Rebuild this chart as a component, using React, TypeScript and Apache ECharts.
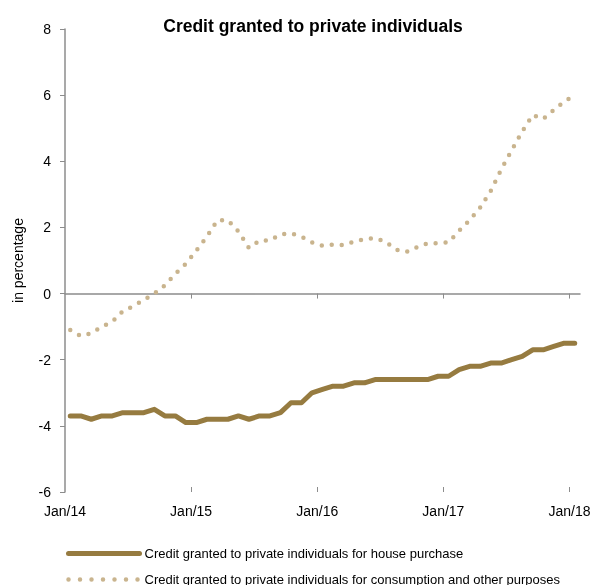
import React, { useEffect, useRef } from "react";
import * as echarts from "echarts";

const titleText = "Credit granted to private individuals";
const yAxisName = "in percentage";
const seriesNames = [
  "Credit granted to private individuals for house purchase",
  "Credit granted to private individuals for consumption and other purposes",
];
// monthly values, Jan/14 .. Jan/18
const housePurchase = [
  -3.7, -3.7, -3.8, -3.7, -3.7, -3.6, -3.6, -3.6, -3.5, -3.7, -3.7, -3.9,
  -3.9, -3.8, -3.8, -3.8, -3.7, -3.8, -3.7, -3.7, -3.6, -3.3, -3.3, -3.0,
  -2.9, -2.8, -2.8, -2.7, -2.7, -2.6, -2.6, -2.6, -2.6, -2.6, -2.6, -2.5,
  -2.5, -2.3, -2.2, -2.2, -2.1, -2.1, -2.0, -1.9, -1.7, -1.7, -1.6, -1.5,
  -1.5,
];
const consumption = [
  -1.1, -1.28, -1.2, -1.0, -0.85, -0.53, -0.38, -0.19, 0.0, 0.25, 0.6, 0.9,
  1.3, 1.72, 2.22, 2.22, 1.88, 1.38, 1.6, 1.61, 1.79, 1.82, 1.72, 1.55,
  1.45, 1.48, 1.47, 1.57, 1.65, 1.68, 1.57, 1.33, 1.26, 1.4, 1.52, 1.52,
  1.55, 1.9, 2.22, 2.6, 3.1, 3.75, 4.33, 4.9, 5.4, 5.28, 5.55, 5.8,
  6.0,
];
const tickMonths = [0, 12, 24, 36, 48];
const tickLabels = ["Jan/14", "Jan/15", "Jan/16", "Jan/17", "Jan/18"];

const FONT = "'Liberation Sans', Arial, sans-serif";
const SOLID = "#967B40";
const DOT = "#C9B48E";
const AXIS = "#8C8C8C";

export default function App() {
  const ref = useRef<HTMLDivElement>(null);
  useEffect(() => {
    if (!ref.current) return;
    const chart = echarts.init(ref.current, null, { renderer: "svg" });
    // data points sit at mid-month
    const toPairs = (arr: number[]) => arr.map((v, i) => [i + 0.5, v]);
    const xBase = {
      type: "value",
      min: 0,
      max: 49,
      splitLine: { show: false },
    };
    chart.setOption({
      animation: false,
      textStyle: { fontFamily: FONT },
      title: {
        text: titleText,
        left: 308,
        textAlign: "center",
        top: 12,
        textStyle: { fontFamily: FONT, fontSize: 17.5, fontWeight: "bold", color: "#000" },
      },
      grid: { left: 65, right: 21, top: 29, bottom: 93 },
      xAxis: [
        {
          ...xBase,
          position: "bottom",
          axisLine: { show: false, onZero: false },
          axisTick: { show: false },
          axisLabel: {
            customValues: tickMonths,
            formatter: (v: number) => {
              const k = tickMonths.indexOf(Math.round(v));
              return k >= 0 ? tickLabels[k] : "";
            },
            fontSize: 14,
            color: "#000",
            margin: 12,
            fontFamily: FONT,
          },
        },
        {
          ...xBase,
          position: "bottom",
          axisLine: { show: true, onZero: true, lineStyle: { color: AXIS, width: 1.5 } },
          axisTick: {
            show: true,
            customValues: tickMonths.slice(1),
            length: 5,
            lineStyle: { color: AXIS, width: 1 },
          },
          axisLabel: { show: false },
        },
        {
          ...xBase,
          position: "bottom",
          axisLine: { show: false, onZero: true },
          axisTick: {
            show: true,
            inside: true,
            customValues: tickMonths.slice(1),
            length: 5,
            lineStyle: { color: AXIS, width: 1 },
          },
          axisLabel: { show: false },
        },
      ],
      yAxis: {
        type: "value",
        min: -6,
        max: 8,
        interval: 2,
        name: yAxisName,
        nameLocation: "middle",
        nameGap: 40,
        nameTextStyle: { fontSize: 14, color: "#000", fontFamily: FONT },
        splitLine: { show: false },
        axisLine: { show: true, onZero: false, lineStyle: { color: AXIS, width: 1.5 } },
        axisTick: { show: true, length: 5, lineStyle: { color: AXIS, width: 1 } },
        axisLabel: { fontSize: 14, color: "#000", margin: 14, fontFamily: FONT },
      },
      legend: {
        orient: "vertical",
        left: 61,
        top: 542,
        height: 120,
        width: 560,
        itemWidth: 71,
        itemHeight: 14,
        itemGap: 13,
        textStyle: { fontSize: 13, color: "#000", fontFamily: FONT },
        data: [
          {
            name: seriesNames[0],
            itemStyle: { opacity: 0 },
            lineStyle: { width: 5, color: SOLID, cap: "round" },
          },
          {
            name: seriesNames[1],
            itemStyle: { opacity: 0 },
            lineStyle: { width: 4.5, color: DOT, type: [0, 11.5], cap: "round" },
          },
        ],
      },
      series: [
        {
          name: seriesNames[0],
          type: "line",
          xAxisIndex: 0,
          data: toPairs(housePurchase),
          symbol: "none",
          lineStyle: { width: 5, color: SOLID, cap: "round", join: "round" },
          itemStyle: { color: SOLID },
        },
        {
          name: seriesNames[1],
          type: "line",
          xAxisIndex: 0,
          data: toPairs(consumption),
          symbol: "none",
          lineStyle: { width: 4.5, color: DOT, type: [0, 10], cap: "round", join: "round" },
          itemStyle: { color: DOT },
        },
      ],
    });
    return () => chart.dispose();
  }, []);
  return (
    <div
      ref={ref}
      style={{ position: "fixed", left: 0, top: 0, width: 601, height: 585 }}
    />
  );
}
